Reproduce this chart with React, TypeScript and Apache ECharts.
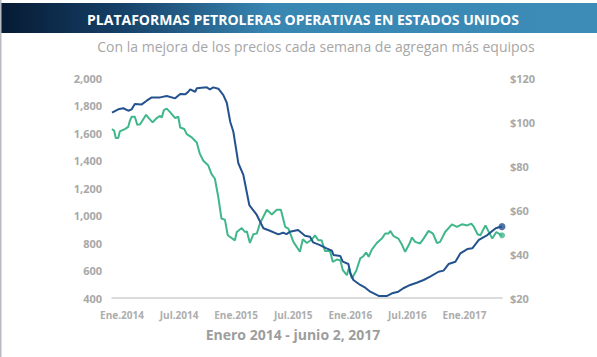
import React, { useEffect, useRef } from "react";
import * as echarts from "echarts";

const TITLE = "PLATAFORMAS PETROLERAS OPERATIVAS EN ESTADOS UNIDOS";
const SUBTITLE = "Con la mejora de los precios cada semana de agregan más equipos";
const X_TITLE = "Enero 2014 - junio 2, 2017";

// US rig count (left axis)
const rigDates = [
  "2014-01-01", "2014-01-21", "2014-02-06", "2014-02-22", "2014-03-05", "2014-03-15", "2014-04-06", "2014-04-22",
  "2014-05-08", "2014-06-04", "2014-06-25", "2014-07-22", "2014-08-07", "2014-08-23", "2014-09-02", "2014-09-08",
  "2014-09-24", "2014-09-29", "2014-10-31", "2014-11-10", "2014-11-21", "2014-12-07", "2014-12-23", "2015-01-03",
  "2015-01-14", "2015-01-24", "2015-02-09", "2015-02-25", "2015-03-16", "2015-04-09", "2015-04-30", "2015-05-21",
  "2015-06-17", "2015-07-02", "2015-07-13", "2015-07-24", "2015-08-19", "2015-09-10", "2015-09-26", "2015-10-06",
  "2015-10-28", "2015-11-18", "2015-12-05", "2015-12-10", "2016-01-01", "2016-01-09", "2016-01-27", "2016-02-02",
  "2016-02-12", "2016-03-05", "2016-03-21", "2016-04-06", "2016-05-03", "2016-05-30", "2016-06-15", "2016-07-05",
  "2016-07-21", "2016-08-12", "2016-09-02", "2016-09-24", "2016-10-15", "2016-11-11", "2016-11-27", "2016-12-13",
  "2017-01-04", "2017-01-20", "2017-02-11", "2017-02-27", "2017-03-20", "2017-04-16", "2017-05-13", "2017-05-23",
  "2017-06-02",
];
const rigCount = [
  1748, 1772, 1780, 1762, 1772, 1811, 1808, 1835,
  1859, 1859, 1869, 1852, 1884, 1881, 1900, 1918,
  1900, 1925, 1932, 1918, 1932, 1922, 1876, 1820,
  1682, 1609, 1380, 1295, 1076, 1004, 907, 889,
  863, 875, 865, 882, 895, 853, 846, 805,
  785, 761, 744, 713, 705, 664, 647, 580,
  531, 495, 475, 446, 415, 415, 434, 446,
  471, 495, 511, 531, 555, 591, 599, 647,
  664, 725, 756, 761, 822, 858, 907, 914,
  919,
];

// Oil price, $ (right axis)
const priceDates = [
  "2014-01-01", "2014-01-08", "2014-01-13", "2014-01-21", "2014-01-26", "2014-02-11", "2014-02-22", "2014-02-27",
  "2014-03-05", "2014-03-15", "2014-03-23", "2014-04-01", "2014-04-20", "2014-04-27", "2014-05-11", "2014-05-24",
  "2014-06-04", "2014-06-09", "2014-06-16", "2014-06-25", "2014-07-05", "2014-07-22", "2014-08-01", "2014-08-07",
  "2014-08-20", "2014-08-28", "2014-09-13", "2014-09-18", "2014-09-29", "2014-10-09", "2014-10-20", "2014-11-05",
  "2014-11-15", "2014-11-26", "2014-12-07", "2014-12-17", "2014-12-28", "2015-01-06", "2015-01-29", "2015-02-04",
  "2015-02-20", "2015-03-02", "2015-03-08", "2015-03-18", "2015-03-29", "2015-04-09", "2015-04-19", "2015-05-11",
  "2015-05-27", "2015-06-12", "2015-06-25", "2015-07-09", "2015-07-19", "2015-08-04", "2015-08-25", "2015-09-03",
  "2015-09-16", "2015-10-02", "2015-10-12", "2015-10-23", "2015-11-02", "2015-11-13", "2015-11-29", "2015-12-08",
  "2015-12-21", "2016-01-01", "2016-01-09", "2016-01-22", "2016-01-29", "2016-02-07", "2016-02-21", "2016-03-05",
  "2016-03-15", "2016-03-24", "2016-04-01", "2016-04-11", "2016-04-27", "2016-05-13", "2016-05-24", "2016-06-04",
  "2016-06-09", "2016-06-20", "2016-07-05", "2016-07-16", "2016-07-27", "2016-08-10", "2016-08-18", "2016-08-28",
  "2016-09-13", "2016-09-24", "2016-10-10", "2016-10-24", "2016-11-06", "2016-11-16", "2016-12-02", "2016-12-24",
  "2017-01-09", "2017-01-25", "2017-02-11", "2017-02-24", "2017-03-03", "2017-03-16", "2017-03-25", "2017-04-10",
  "2017-05-02", "2017-05-15", "2017-05-23", "2017-06-02",
];
const oilPrice = [
  96.8, 96.0, 92.7, 92.7, 95.7, 96.8, 97.8, 100.5,
  102.4, 102.4, 98.7, 99.0, 103.3, 102.0, 99.8, 101.8,
  102.8, 102.0, 105.4, 106.1, 104.6, 101.8, 102.4, 97.5,
  96.8, 94.5, 93.0, 92.3, 90.7, 85.5, 82.4, 80.2,
  76.4, 74.2, 65.8, 56.1, 55.6, 48.5, 46.2, 50.0,
  51.8, 50.0, 50.3, 45.0, 49.0, 49.3, 53.8, 60.1,
  58.0, 60.1, 60.1, 52.3, 51.5, 45.5, 41.0, 46.7,
  45.0, 46.6, 48.5, 46.2, 46.2, 41.4, 41.4, 36.4,
  37.5, 37.2, 32.7, 30.4, 33.9, 28.9, 32.4, 38.0,
  39.0, 40.7, 38.7, 42.0, 45.0, 47.0, 49.3, 49.3,
  50.5, 48.1, 47.0, 44.4, 41.0, 44.8, 47.5, 45.5,
  44.8, 47.0, 50.5, 49.3, 45.0, 45.5, 50.0, 53.5,
  52.3, 53.5, 53.0, 53.8, 52.6, 49.0, 48.5, 53.0,
  47.0, 50.0, 49.3, 48.5,
];

const X_START = "2014-01-01";
const X_END = "2017-06-02";

const toYear = (s: string) => {
  const [y, m, d] = s.split("-").map(Number);
  const t = Date.UTC(y, m - 1, d);
  const a = Date.UTC(y, 0, 1);
  const b = Date.UTC(y + 1, 0, 1);
  return y + (t - a) / (b - a);
};

const BLUE = "#24528f";
const GREEN = "#40b78b";
const FONT = "'Open Sans', 'Noto Sans', sans-serif";

export default function App() {
  const ref = useRef<HTMLDivElement>(null);
  useEffect(() => {
    if (!ref.current) return;
    const chart = echarts.init(ref.current, null, { renderer: "svg" });
    const rigData = rigDates.map((d, i) => [toYear(d), rigCount[i]]);
    const oilData = priceDates.map((d, i) => [toYear(d), oilPrice[i]]);
    chart.setOption({
      animation: false,
      backgroundColor: "#ffffff",
      textStyle: { fontFamily: FONT },
      graphic: [
        {
          type: "rect",
          shape: { x: 0, y: 3, width: 597, height: 30 },
          style: {
            fill: new echarts.graphic.LinearGradient(0, 0, 1, 0, [
              { offset: 0, color: "#061a33" },
              { offset: 0.2, color: "#153f66" },
              { offset: 0.45, color: "#3886b2" },
              { offset: 1, color: "#3d8cb8" },
            ]),
          },
        },
        {
          type: "rect",
          shape: { x: 0, y: 0, width: 1.5, height: 357 },
          style: { fill: "#b8bcc2" },
        },
        {
          type: "text",
          x: 303,
          y: 19,
          style: {
            text: TITLE,
            fill: "#ffffff",
            font: `bold 14px ${FONT}`,
            align: "center",
            verticalAlign: "middle",
          },
        },
        {
          type: "text",
          x: 316,
          y: 46,
          style: {
            text: SUBTITLE,
            fill: "#a6a6a6",
            font: `14px ${FONT}`,
            align: "center",
            verticalAlign: "middle",
          },
        },
        {
          type: "text",
          x: 293,
          y: 334,
          style: {
            text: X_TITLE,
            fill: "#9d9d9d",
            font: `bold 14px ${FONT}`,
            align: "center",
            verticalAlign: "middle",
          },
        },
      ],
      grid: { left: 112, right: 95, top: 78, bottom: 59, containLabel: false },
      xAxis: {
        type: "value",
        min: toYear(X_START),
        max: toYear(X_END),
        interval: 0.5,
        axisLine: { show: true, lineStyle: { color: "#cfcfcf", width: 1.5 } },
        axisTick: { show: false },
        splitLine: { show: false },
        axisLabel: {
          showMaxLabel: false,
          color: "#adadad",
          fontWeight: "bold",
          fontSize: 10,
          fontFamily: FONT,
          margin: 12,
          padding: [0, 0, 0, 20],
          formatter: (v: number) => {
            const y = Math.floor(v + 1e-6);
            return (v - y < 0.25 ? "Ene." : "Jul.") + y;
          },
        },
      },
      yAxis: [
        {
          type: "value",
          min: 400,
          max: 2000,
          interval: 200,
          axisLine: { show: false },
          axisTick: { show: false },
          splitLine: { show: false },
          axisLabel: {
            color: "#a8a8a8",
            fontWeight: "bold",
            fontSize: 11,
            fontFamily: FONT,
            margin: 10,
            formatter: (v: number) => v.toLocaleString("en-US"),
          },
        },
        {
          type: "value",
          min: 20,
          max: 120,
          interval: 20,
          position: "right",
          axisLine: { show: false },
          axisTick: { show: false },
          splitLine: { show: false },
          axisLabel: {
            color: "#a8a8a8",
            fontWeight: "bold",
            fontSize: 11,
            fontFamily: FONT,
            margin: 8,
            formatter: (v: number) => "$" + v,
          },
        },
      ],
      series: [
        {
          type: "line",
          name: "Precio",
          yAxisIndex: 1,
          data: oilData,
          showSymbol: false,
          symbol: "none",
          lineStyle: { color: GREEN, width: 2 },
          z: 2,
        },
        {
          type: "line",
          name: "Plataformas",
          yAxisIndex: 0,
          data: rigData,
          showSymbol: false,
          symbol: "none",
          lineStyle: { color: BLUE, width: 2 },
          z: 3,
        },
        {
          type: "scatter",
          yAxisIndex: 1,
          data: [oilData[oilData.length - 1]],
          symbolSize: 6,
          itemStyle: { color: GREEN },
          z: 4,
        },
        {
          type: "scatter",
          yAxisIndex: 0,
          data: [rigData[rigData.length - 1]],
          symbolSize: 7,
          itemStyle: { color: BLUE },
          z: 5,
        },
      ],
    });
    return () => chart.dispose();
  }, []);
  return (
    <div
      ref={ref}
      style={{ position: "absolute", left: 0, top: 0, width: 597, height: 357 }}
    />
  );
}
